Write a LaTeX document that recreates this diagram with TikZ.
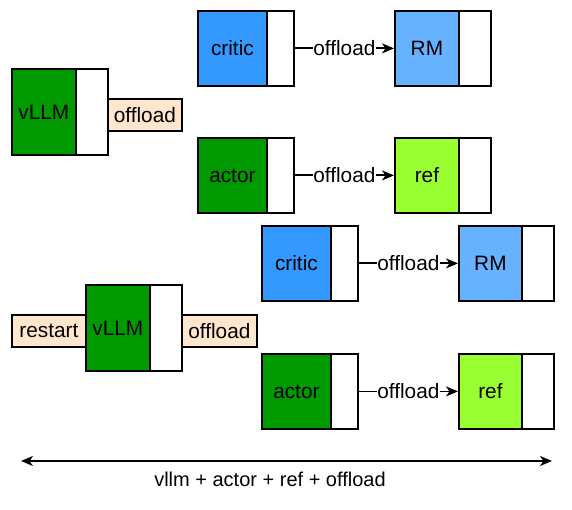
\documentclass[tikz,border=0pt]{standalone}
\usepackage{fontspec}
\setmainfont{Liberation Sans}
\usetikzlibrary{arrows.meta}
\definecolor{cblue}{HTML}{3399FF}
\definecolor{rmblue}{HTML}{66B2FF}
\definecolor{cgreen}{HTML}{009900}
\definecolor{rgreen}{HTML}{99FF33}
\definecolor{peach}{HTML}{FFE6CC}
\begin{document}
\begin{tikzpicture}[x=1pt,y=-1pt,
  every node/.style={font=\fontsize{20.8}{24}\selectfont},
  part/.style={draw, line width=1.8pt, inner sep=0pt, anchor=north west, minimum height=75pt},
  tall/.style={minimum height=86pt},
  lbl/.style={draw, line width=1.8pt, fill=peach, inner sep=0pt, anchor=north west, minimum height=32pt},
  tip/.style={Stealth[length=12pt,width=10pt,inset=3.5pt]},
  arr/.style={line width=1.8pt, -{Stealth[length=12pt,width=10pt,inset=3.5pt]}},
  onl/.style={fill=white, inner sep=0.5pt}]
\useasboundingbox (0,0) rectangle (572,510);
% top vLLM
\node[part, tall, fill=cgreen, minimum width=64pt] (v1) at (11,68) {vLLM};
\node[part, tall, fill=white, minimum width=32pt] (v1w) at (75,68) {};
\node[lbl, minimum width=74pt] (o1) at (107,98) {offload};
% top critic / RM
\node[part, fill=cblue, minimum width=69pt] (c1) at (197,10) {critic};
\node[part, fill=white, minimum width=27pt] (c1w) at (266,10) {};
\node[part, fill=rmblue, minimum width=64pt] (r1) at (394,10) {RM};
\node[part, fill=white, minimum width=32pt] (r1w) at (458,10) {};
% top actor / ref
\node[part, fill=cgreen, minimum width=69pt] (a1) at (197,137) {actor};
\node[part, fill=white, minimum width=27pt] (a1w) at (266,137) {};
\node[part, fill=rgreen, minimum width=64pt] (f1) at (394,137) {ref};
\node[part, fill=white, minimum width=32pt] (f1w) at (458,137) {};
% bottom critic / RM
\node[part, fill=cblue, minimum width=69pt] (c2) at (261,225) {critic};
\node[part, fill=white, minimum width=27pt] (c2w) at (330,225) {};
\node[part, fill=rmblue, minimum width=63pt] (r2) at (458,225) {RM};
\node[part, fill=white, minimum width=32pt] (r2w) at (521,225) {};
% bottom actor / ref
\node[part, fill=cgreen, minimum width=69pt] (a2) at (261,353) {actor};
\node[part, fill=white, minimum width=27pt] (a2w) at (330,353) {};
\node[part, fill=rgreen, minimum width=63pt] (f2) at (458,353) {ref};
\node[part, fill=white, minimum width=32pt] (f2w) at (521,353) {};
% bottom vLLM
\node[part, tall, fill=cgreen, minimum width=64pt] (v2) at (85,284) {vLLM};
\node[part, tall, fill=white, minimum width=32pt] (v2w) at (149,284) {};
\node[lbl, minimum width=74pt] (rs) at (11,314) {restart};
\node[lbl, minimum width=75pt] (o2) at (181,314) {offload};
% arrows
\draw[arr] (c1w.east) -- node[onl] {offload} (r1.west);
\draw[arr] (a1w.east) -- node[onl] {offload} (f1.west);
\draw[arr] (c2w.east) -- node[onl] {offload} (r2.west);
\draw[arr] (a2w.east) -- node[onl] {offload} (f2.west);
% span arrow
\coordinate (sl) at (21,461);
\coordinate (sr) at (552,461);
\draw[line width=1.6pt, {Stealth[length=12pt,width=10pt,inset=3.5pt]}-{Stealth[length=12pt,width=10pt,inset=3.5pt]}] (sl) -- (sr);
\node[font=\fontsize{20}{24}\selectfont] (tot) at (270,479) {vllm + actor + ref + offload};
\end{tikzpicture}
\end{document}
